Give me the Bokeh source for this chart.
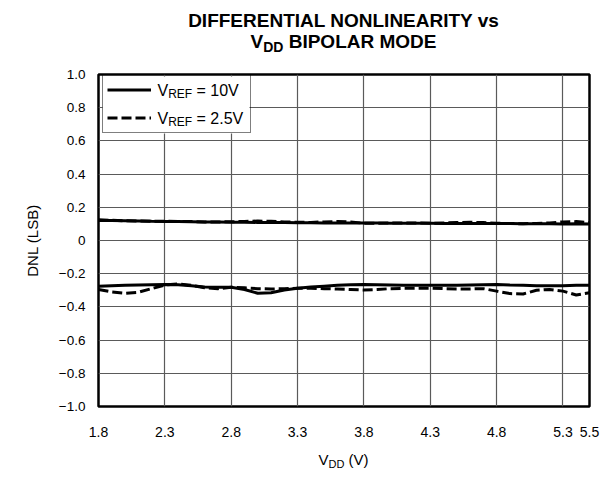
from bokeh.plotting import figure
from bokeh.models import (Range1d, FixedTicker, Legend, LegendItem, Label, ColumnDataSource,
                          BoxAnnotation, Div)
from bokeh.layouts import column
from bokeh.embed import file_html
from bokeh.resources import INLINE

# ---- data ----
vdd = [1.8, 1.9, 2.0, 2.1, 2.2, 2.3, 2.4, 2.5, 2.6, 2.7, 2.8, 2.9, 3.0, 3.1, 3.2, 3.3, 3.4, 3.5, 3.6,
       3.7, 3.8, 3.9, 4.0, 4.1, 4.2, 4.3, 4.4, 4.5, 4.6, 4.7, 4.8, 4.9, 5.0, 5.1, 5.2, 5.3, 5.4, 5.5]

dnl_max_10v = [0.120, 0.120, 0.119, 0.118, 0.116, 0.115, 0.114, 0.113, 0.112, 0.111, 0.110, 0.110, 0.109,
               0.108, 0.108, 0.107, 0.107, 0.106, 0.106, 0.105, 0.105, 0.105, 0.104, 0.104, 0.104, 0.104,
               0.103, 0.103, 0.103, 0.102, 0.102, 0.102, 0.101, 0.101, 0.101, 0.100, 0.101, 0.100]
dnl_max_2v5 = [0.125, 0.122, 0.119, 0.117, 0.116, 0.116, 0.115, 0.114, 0.112, 0.112, 0.113, 0.115, 0.117,
               0.116, 0.112, 0.110, 0.109, 0.112, 0.114, 0.112, 0.104, 0.103, 0.105, 0.106, 0.105, 0.104,
               0.106, 0.108, 0.110, 0.108, 0.104, 0.102, 0.101, 0.103, 0.106, 0.112, 0.114, 0.108]
dnl_min_10v = [-0.275, -0.272, -0.270, -0.268, -0.266, -0.265, -0.266, -0.272, -0.280, -0.282, -0.282,
               -0.295, -0.318, -0.315, -0.298, -0.288, -0.280, -0.275, -0.270, -0.266, -0.265, -0.266,
               -0.268, -0.270, -0.270, -0.270, -0.270, -0.270, -0.268, -0.266, -0.265, -0.268, -0.270,
               -0.272, -0.272, -0.272, -0.270, -0.270]
dnl_min_2v5 = [-0.295, -0.310, -0.318, -0.312, -0.290, -0.268, -0.262, -0.270, -0.285, -0.290, -0.282,
               -0.285, -0.290, -0.292, -0.290, -0.288, -0.288, -0.290, -0.292, -0.295, -0.298, -0.295,
               -0.290, -0.288, -0.288, -0.288, -0.290, -0.292, -0.292, -0.290, -0.305, -0.320, -0.322,
               -0.300, -0.295, -0.305, -0.328, -0.315]

x_ticks = [1.8, 2.3, 2.8, 3.3, 3.8, 4.3, 4.8, 5.3, 5.5]
y_ticks = [-1.0, -0.8, -0.6, -0.4, -0.2, 0.0, 0.2, 0.4, 0.6, 0.8, 1.0]
y_tick_labels = ["\u22121.0", "\u22120.8", "\u22120.6", "\u22120.4", "\u22120.2", "0",
                 "0.2", "0.4", "0.6", "0.8", "1.0"]

FONT = "Liberation Sans"
W = 605

# ---- title (HTML so that the subscript is real text) ----
title_html = (
    f"<div style=\"width:491px;margin-left:98px;text-align:center;font-family:'{FONT}';"
    "font-weight:bold;font-size:19px;line-height:21.5px;color:black;padding-top:9.5px;\">"
    "DIFFERENTIAL NONLINEARITY vs<br>"
    "V<sub style=\"font-size:14px;vertical-align:-4px;line-height:0\">DD</sub> BIPOLAR MODE</div>"
)
title_div = Div(text=title_html, width=W, height=60, margin=0)

xlabel_html = (
    f"<div style=\"width:491px;margin-left:98px;text-align:center;font-family:'{FONT}';"
    "font-size:15px;line-height:15px;color:black;padding-top:6px;\">"
    "V<sub style=\"font-size:11px;vertical-align:-3px;line-height:0\">DD</sub> (V)</div>"
)
xlabel_div = Div(text=xlabel_html, width=W, height=24, margin=0)

src = ColumnDataSource(dict(x=vdd, a=dnl_max_10v, b=dnl_max_2v5, c=dnl_min_10v, d=dnl_min_2v5))

p = figure(width=W, height=386, x_range=Range1d(1.8, 5.5), y_range=Range1d(-1.0, 1.0),
           output_backend="svg", toolbar_location=None, title=None,
           min_border_left=98, min_border_right=16, min_border_top=14, min_border_bottom=40)

p.outline_line_color = "black"
p.outline_line_width = 2.5
p.background_fill_color = "white"
p.border_fill_color = "white"

p.xaxis.ticker = FixedTicker(ticks=x_ticks)
p.yaxis.ticker = FixedTicker(ticks=y_ticks)
p.yaxis.major_label_overrides = {t: l for t, l in zip(y_ticks, y_tick_labels)}
p.xaxis.major_label_overrides = {t: f"{t:.1f}" for t in x_ticks}
for ax in (p.xaxis, p.yaxis):
    ax.axis_line_color = None
    ax.major_tick_line_color = None
    ax.minor_tick_line_color = None
    ax.major_tick_out = 0
    ax.major_tick_in = 0
    ax.major_label_text_font = FONT
    ax.major_label_text_color = "black"
p.xaxis.major_label_text_font_size = "14px"
p.yaxis.major_label_text_font_size = "13.5px"
p.xaxis.major_label_standoff = 20
p.yaxis.major_label_standoff = 13
p.yaxis.axis_label = "DNL (LSB)"
p.yaxis.axis_label_text_font = FONT
p.yaxis.axis_label_text_font_size = "15px"
p.yaxis.axis_label_text_font_style = "normal"
p.yaxis.axis_label_text_color = "black"
p.yaxis.axis_label_standoff = 15

p.xgrid.grid_line_color = "#5a5a5a"
p.ygrid.grid_line_color = "#5a5a5a"
p.xgrid.grid_line_width = 1.2
p.ygrid.grid_line_width = 1.2

# white legend background under the legend, above the grid
p.add_layout(BoxAnnotation(left=4, right=151, bottom=273, top=330,
                           left_units="screen", right_units="screen",
                           bottom_units="screen", top_units="screen",
                           fill_color="white", fill_alpha=1.0, line_color=None, level="underlay"))

r1 = p.line("x", "a", source=src, line_color="black", line_width=3)
r2 = p.line("x", "b", source=src, line_color="black", line_width=3, line_dash="10 4")
r3 = p.line("x", "c", source=src, line_color="black", line_width=3)
r4 = p.line("x", "d", source=src, line_color="black", line_width=3, line_dash="10 4")

legend = Legend(items=[LegendItem(label="VREF = 10V", renderers=[r1]),
                       LegendItem(label="VREF = 2.5V", renderers=[r2])],
                location=(4, 273), padding=4, spacing=7, glyph_width=44, glyph_height=21,
                label_width=87, label_height=21, label_standoff=8, margin=0,
                border_line_color="black", border_line_width=1.5,
                background_fill_alpha=0.0,
                label_text_alpha=0.0, label_text_font_size="12px")
p.add_layout(legend)


def lab(x, y, text, size):
    return Label(x=x, y=y, x_units="screen", y_units="screen", text=text,
                 text_font=FONT, text_font_size=f"{size}px",
                 text_align="left", text_baseline="alphabetic", text_color="black")


# legend texts
p.add_layout(lab(59, 316, "V", 16))
p.add_layout(lab(69.7, 312.5, "REF", 12))
p.add_layout(lab(98, 316, "= 10V", 16))
p.add_layout(lab(59, 288, "V", 16))
p.add_layout(lab(69.7, 284.5, "REF", 12))
p.add_layout(lab(98, 288, "= 2.5V", 16))

layout = column(title_div, p, xlabel_div, spacing=0)

open("out.html", "w").write(file_html(layout, INLINE))
